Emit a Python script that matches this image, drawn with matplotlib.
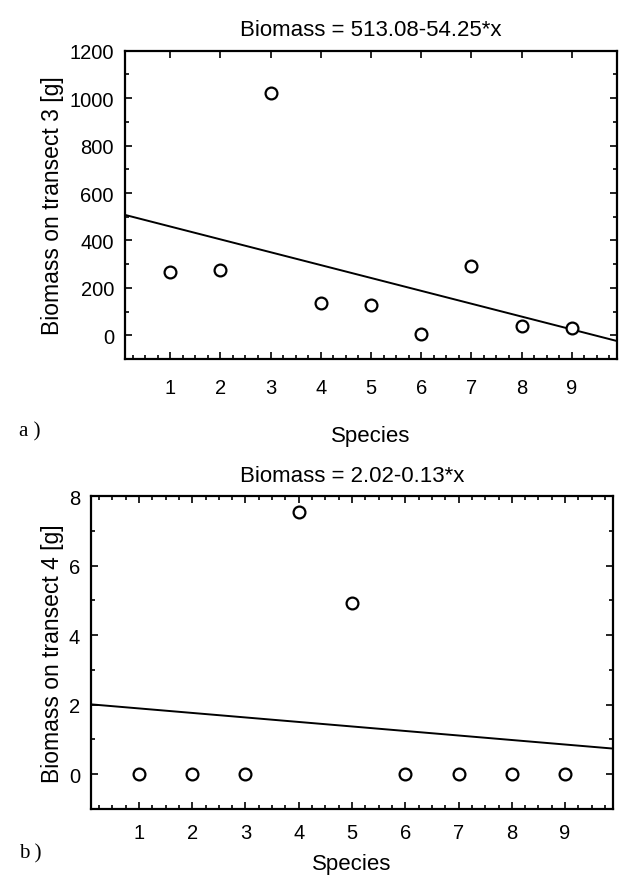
import matplotlib
matplotlib.use("Agg")
import matplotlib.pyplot as plt
from matplotlib.ticker import MultipleLocator
import numpy as np

# --- data ---
species = [1, 2, 3, 4, 5, 6, 7, 8, 9]
biomass_t3 = [266, 275, 1020, 136, 128, 5, 292, 38, 31]
biomass_t4 = [0, 0, 0, 7.55, 4.92, 0, 0, 0, 0]
fit_t3 = (513.08, -54.25)
fit_t4 = (2.02, -0.13)
title_t3 = "Biomass = 513.08-54.25*x"
title_t4 = "Biomass = 2.02-0.13*x"

plt.rcParams['font.family'] = ['Liberation Sans', 'DejaVu Sans']

fig = plt.figure(figsize=(6.2, 8.79), dpi=100)
ax1 = fig.add_axes([0.2016, 0.5904, 0.7935, 0.3508])
ax2 = fig.add_axes([0.1468, 0.0788, 0.8420, 0.3554])


def style_axes(ax, ylim, ymaj, ymin, top_minor, xtpad, xpad):
    ax.set_xlim(0.1, 9.9)
    ax.set_ylim(*ylim)
    ax.xaxis.set_major_locator(MultipleLocator(1))
    ax.xaxis.set_minor_locator(MultipleLocator(0.25))
    ax.yaxis.set_major_locator(MultipleLocator(ymaj))
    ax.yaxis.set_minor_locator(MultipleLocator(ymin))
    ax.tick_params(which='both', direction='in', top=True, right=True,
                   width=1.2, labelsize=14.5, pad=8)
    ax.tick_params(which='major', length=5)
    ax.tick_params(which='minor', length=3, top=top_minor)
    ax.tick_params(axis='x', pad=xtpad)
    for s in ax.spines.values():
        s.set_linewidth(1.6)
    ax.set_xlabel("Species", fontsize=16, labelpad=xpad)


def draw(ax, y, fit, title):
    ax.plot(species, y, 'o', mfc='white', mec='black', ms=8.5, mew=1.6, zorder=3)
    xs = np.array(ax.get_xlim())
    ax.plot(xs, fit[0] + fit[1] * xs, color='black', lw=1.4, zorder=2)
    ax.set_title(title, fontsize=16, pad=11)


style_axes(ax1, (-100, 1200), 200, 100, top_minor=False, xtpad=14, xpad=20)
draw(ax1, biomass_t3, fit_t3, title_t3)
ax1.set_ylabel("Biomass on transect 3 [g]", fontsize=16.5, labelpad=4)

style_axes(ax2, (-1, 8), 2, 1, top_minor=True, xtpad=10, xpad=8)
draw(ax2, biomass_t4, fit_t4, title_t4)
ax2.set_ylabel("Biomass on transect 4 [g]", fontsize=16.5, labelpad=3)

fig.text(0.03, 0.509, "a )", family='Liberation Serif', fontsize=15, va='center')
fig.text(0.03, 0.029, "b )", family='Liberation Serif', fontsize=15, va='center')

fig.savefig("out.png", dpi=100)
